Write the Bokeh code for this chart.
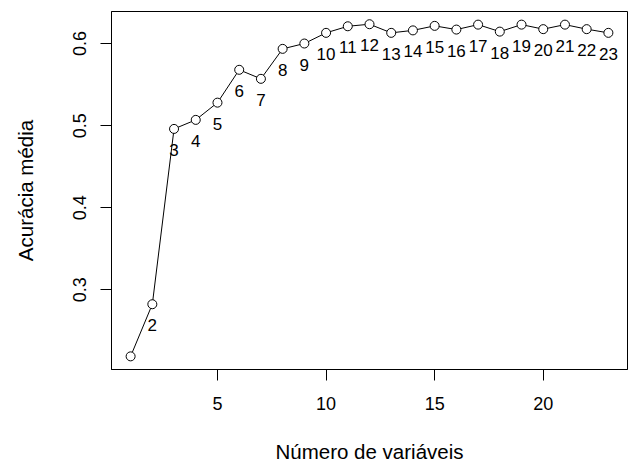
from bokeh.plotting import figure
from bokeh.models import FixedTicker, Range1d, ColumnDataSource
from bokeh.core.properties import value
from bokeh.embed import file_html
from bokeh.resources import INLINE

# Data
n_vars = list(range(1, 24))
accuracy = [0.219, 0.2825, 0.496, 0.507, 0.528, 0.568, 0.557, 0.5935, 0.600,
            0.613, 0.621, 0.6235, 0.613, 0.616, 0.6215, 0.617, 0.623, 0.6145,
            0.623, 0.6175, 0.623, 0.6175, 0.613]
point_labels = [str(v) for v in n_vars]
x_ticks = [5, 10, 15, 20]
y_ticks = [0.3, 0.4, 0.5, 0.6]

FONT = "Liberation Sans"

p = figure(width=629, height=468, output_backend="svg", toolbar_location=None,
           x_range=Range1d(0.12, 23.88), y_range=Range1d(0.203, 0.639),
           min_border_left=111, min_border_top=11, min_border_bottom=99,
           min_border_right=2)

p.background_fill_color = "white"
p.border_fill_color = "white"
p.outline_line_color = "black"
p.outline_line_width = 1
p.xgrid.visible = False
p.ygrid.visible = False

src = ColumnDataSource(dict(x=n_vars, y=accuracy, lab=point_labels))
lab_src = ColumnDataSource(dict(x=n_vars[1:], y=accuracy[1:], lab=point_labels[1:]))

p.line("x", "y", source=src, line_color="black", line_width=1)
p.scatter("x", "y", source=src, marker="circle", size=9, fill_color="white",
          line_color="black", line_width=1)
p.text("x", "y", text="lab", source=lab_src, y_offset=21, text_align="center",
       text_baseline="middle", text_font=value(FONT), text_font_size="17px",
       text_color="black")

for ax in (p.xaxis[0], p.yaxis[0]):
    ax.axis_line_color = "black"
    ax.major_tick_line_color = "black"
    ax.minor_tick_line_color = None
    ax.major_tick_in = 0
    ax.major_tick_out = 11
    ax.major_label_text_font = FONT
    ax.major_label_text_font_size = "18px"
    ax.major_label_text_color = "black"
    ax.axis_label_text_font = FONT
    ax.axis_label_text_font_size = "20.5px"
    ax.axis_label_text_font_style = "normal"
    ax.axis_label_text_color = "black"

p.xaxis.ticker = FixedTicker(ticks=x_ticks)
p.yaxis.ticker = FixedTicker(ticks=y_ticks)
p.xaxis.axis_label = "Número de variáveis"
p.yaxis.axis_label = "Acurácia média"
p.xaxis.major_label_standoff = 16
p.xaxis.axis_label_standoff = 27
p.yaxis.major_label_orientation = "vertical"
p.yaxis.major_label_standoff = 14
p.yaxis.axis_label_standoff = 34

open("out.html", "w").write(file_html(p, INLINE))
